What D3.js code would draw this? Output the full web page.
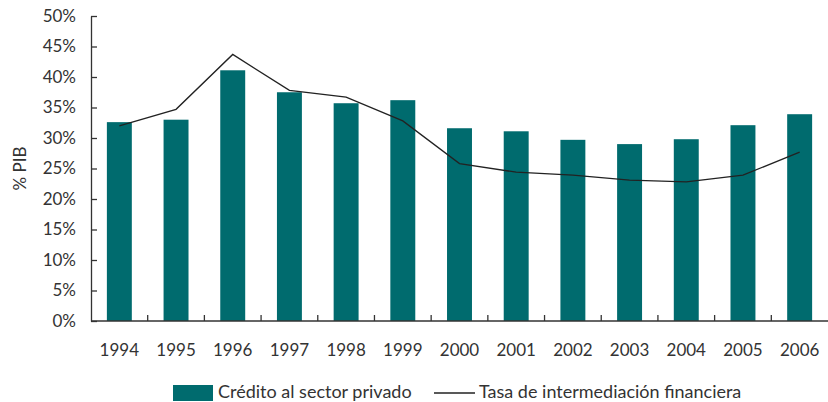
<!DOCTYPE html>
<html>
<head>
<meta charset="utf-8">
<script src="https://cdn.jsdelivr.net/npm/d3@7/dist/d3.min.js"></script>
<style>
  body { margin: 0; background: #fff; }
  text { font-family: Lato, "Open Sans", sans-serif; fill: #333; }
</style>
</head>
<body>
<script>
'use strict';

var years = ["1994","1995","1996","1997","1998","1999","2000","2001","2002","2003","2004","2005","2006"];
var credito = [32.6, 33.0, 41.1, 37.5, 35.7, 36.2, 31.6, 31.1, 29.7, 29.0, 29.8, 32.1, 33.9];
var tasa = [32.0, 34.7, 43.7, 37.8, 36.7, 32.8, 25.8, 24.4, 23.9, 23.1, 22.8, 23.9, 27.7];
var yTicks = [0, 5, 10, 15, 20, 25, 30, 35, 40, 45, 50];
var seriesNames = ["Crédito al sector privado", "Tasa de intermediación financiera"];

var width = 828, height = 402;
var plotLeft = 91, plotRight = 828, plotTop = 16, plotBottom = 321;
var teal = "#006b6e";

var svg = d3.select("body").append("svg")
   .attr("width", width)
   .attr("height", height);

var x = d3.scaleBand().domain(years).range([plotLeft, plotRight])
   .paddingInner(0.56).paddingOuter(0.28);
var y = d3.scaleLinear().domain([0, 50]).range([plotBottom, plotTop]);

// bars
svg.append("g").selectAll("rect")
   .data(credito)
   .enter().append("rect")
   .attr("x", function(d, i){ return x(years[i]); })
   .attr("y", function(d){ return y(d); })
   .attr("width", x.bandwidth())
   .attr("height", function(d){ return y(0) - y(d); })
   .attr("fill", teal);

// line
var line = d3.line()
   .x(function(d, i){ return x(years[i]) + x.bandwidth() / 2; })
   .y(function(d){ return y(d); });
svg.append("path")
   .datum(tasa)
   .attr("d", line)
   .attr("fill", "none")
   .attr("stroke", "#222")
   .attr("stroke-width", 1.3);

// y axis
var yAxis = d3.axisLeft(y).tickValues(yTicks).tickSizeInner(-6).tickSizeOuter(0)
   .tickPadding(15).tickFormat(function(d){ return d + "%"; });
var gy = svg.append("g").attr("transform", "translate(" + plotLeft + ",0)").call(yAxis);
gy.selectAll("line, path").attr("stroke", "#333").attr("stroke-width", 1.3);
gy.selectAll("text").attr("font-size", 17).attr("fill", "#333");

// x axis baseline and boundary ticks
var step = x.step();
svg.append("line")
   .attr("x1", plotLeft).attr("x2", plotRight)
   .attr("y1", y(0)).attr("y2", y(0))
   .attr("stroke", "#333").attr("stroke-width", 1.3);
svg.append("g").selectAll("line")
   .data(years.slice(1))
   .enter().append("line")
   .attr("x1", function(d){ return x(d) - step * x.paddingInner() / 2; })
   .attr("x2", function(d){ return x(d) - step * x.paddingInner() / 2; })
   .attr("y1", y(0)).attr("y2", y(0) - 6)
   .attr("stroke", "#333").attr("stroke-width", 1.3);
svg.append("g").selectAll("text")
   .data(years)
   .enter().append("text")
   .attr("x", function(d){ return x(d) + x.bandwidth() / 2; })
   .attr("y", 356)
   .attr("text-anchor", "middle")
   .attr("font-size", 17)
   .text(function(d){ return d; });

// y axis title
svg.append("text")
   .attr("transform", "translate(26," + ((plotTop + plotBottom) / 2) + ") rotate(-90)")
   .attr("text-anchor", "middle")
   .attr("font-size", 17)
   .text("% PIB");

// legend
var lg = svg.append("g");
lg.append("rect").attr("x", 173).attr("y", 385).attr("width", 40).attr("height", 16).attr("fill", teal);
lg.append("text").attr("x", 218).attr("y", 398).attr("font-size", 18).text(seriesNames[0]);
lg.append("line").attr("x1", 434).attr("x2", 475).attr("y1", 393).attr("y2", 393)
   .attr("stroke", "#222").attr("stroke-width", 1.3);
lg.append("text").attr("x", 479).attr("y", 398).attr("font-size", 18).text(seriesNames[1]);
</script>
</body>
</html>
